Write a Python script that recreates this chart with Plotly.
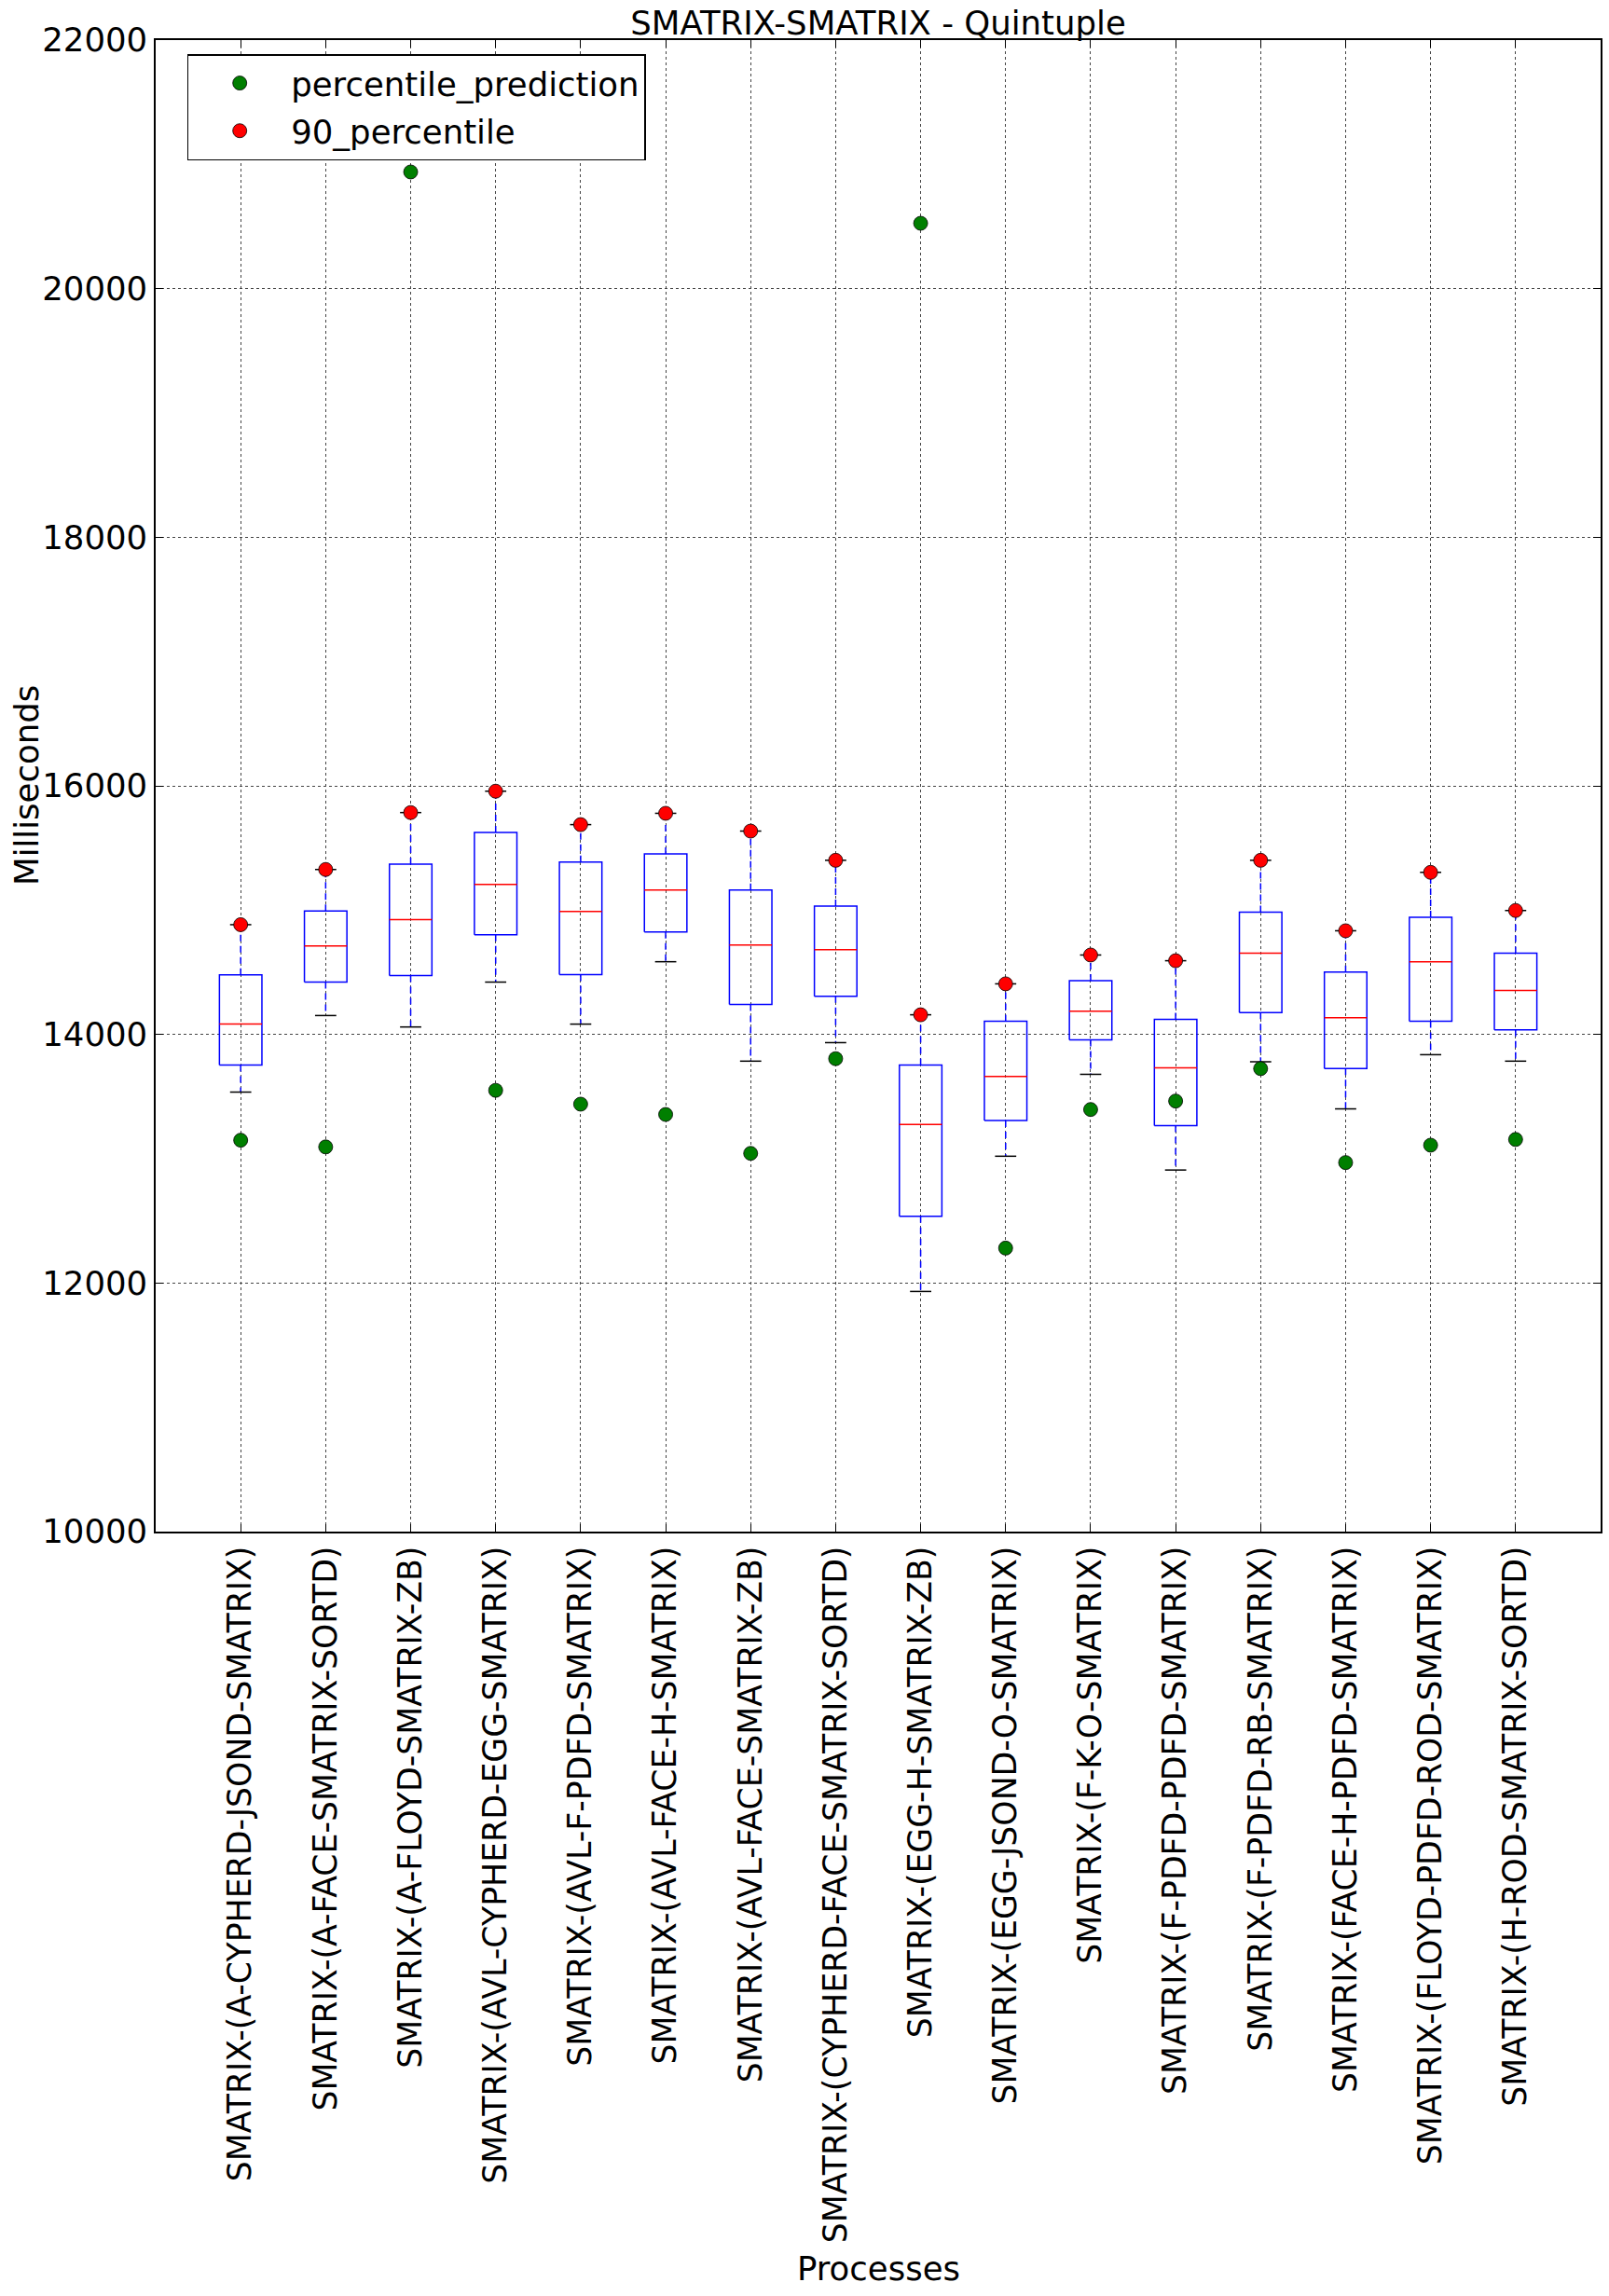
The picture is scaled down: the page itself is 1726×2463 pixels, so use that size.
import plotly.graph_objects as go

categories = [
    "SMATRIX-(A-CYPHERD-JSOND-SMATRIX)",
    "SMATRIX-(A-FACE-SMATRIX-SORTD)",
    "SMATRIX-(A-FLOYD-SMATRIX-ZB)",
    "SMATRIX-(AVL-CYPHERD-EGG-SMATRIX)",
    "SMATRIX-(AVL-F-PDFD-SMATRIX)",
    "SMATRIX-(AVL-FACE-H-SMATRIX)",
    "SMATRIX-(AVL-FACE-SMATRIX-ZB)",
    "SMATRIX-(CYPHERD-FACE-SMATRIX-SORTD)",
    "SMATRIX-(EGG-H-SMATRIX-ZB)",
    "SMATRIX-(EGG-JSOND-O-SMATRIX)",
    "SMATRIX-(F-K-O-SMATRIX)",
    "SMATRIX-(F-PDFD-PDFD-SMATRIX)",
    "SMATRIX-(F-PDFD-RB-SMATRIX)",
    "SMATRIX-(FACE-H-PDFD-SMATRIX)",
    "SMATRIX-(FLOYD-PDFD-ROD-SMATRIX)",
    "SMATRIX-(H-ROD-SMATRIX-SORTD)",
]
positions = list(range(1, len(categories) + 1))

whisker_low = [13536, 14152, 14060, 14421, 14083, 14585, 13785, 13934, 11932, 13020, 13679, 12909, 13780, 13401, 13837, 13785]
q1 = [13754, 14421, 14473, 14802, 14482, 14825, 14241, 14307, 12536, 13307, 13957, 13267, 14175, 13725, 14106, 14037]
median = [14083, 14711, 14923, 15206, 14989, 15161, 14719, 14682, 13275, 13662, 14186, 13731, 14653, 14135, 14585, 14353]
q3 = [14479, 14994, 15370, 15625, 15387, 15453, 15161, 15032, 13754, 14106, 14433, 14121, 14983, 14502, 14943, 14653]
whisker_high = [14883, 15327, 15785, 15957, 15688, 15779, 15636, 15401, 14158, 14407, 14639, 14593, 15401, 14834, 15304, 14997]

percentile_90 = [14883, 15327, 15785, 15957, 15688, 15779, 15636, 15401, 14158, 14407, 14639, 14593, 15401, 14834, 15304, 14997]
percentile_prediction = [13149, 13095, 20939, 13550, 13439, 13356, 13043, 13805, 20526, 12281, 13396, 13464, 13725, 12969, 13109, 13155]

y_ticks = [10000, 12000, 14000, 16000, 18000, 20000, 22000]

BOX_HALF = 0.25
CAP_HALF = 0.125
FONT = "DejaVu Sans"
FS = 35.5
FS_XT = 34.7

box_x, box_y = [], []
med_x, med_y = [], []
wh_x, wh_y = [], []
cap_x, cap_y = [], []
for p, lo, a, m, b, hi in zip(positions, whisker_low, q1, median, q3, whisker_high):
    box_x += [p - BOX_HALF, p + BOX_HALF, p + BOX_HALF, p - BOX_HALF, p - BOX_HALF, None]
    box_y += [a, a, b, b, a, None]
    med_x += [p - BOX_HALF, p + BOX_HALF, None]
    med_y += [m, m, None]
    wh_x += [p, p, None, p, p, None]
    wh_y += [b, hi, None, a, lo, None]
    cap_x += [p - CAP_HALF, p + CAP_HALF, None, p - CAP_HALF, p + CAP_HALF, None]
    cap_y += [hi, hi, None, lo, lo, None]

fig = go.Figure()
fig.add_trace(go.Scatter(x=wh_x, y=wh_y, mode="lines", showlegend=False, hoverinfo="skip",
                         line=dict(color="#0000ff", width=1.5, dash="7px,5px")))
fig.add_trace(go.Scatter(x=cap_x, y=cap_y, mode="lines", showlegend=False, hoverinfo="skip",
                         line=dict(color="black", width=1.5)))
fig.add_trace(go.Scatter(x=box_x, y=box_y, mode="lines", showlegend=False, hoverinfo="skip",
                         line=dict(color="#0000ff", width=1.5)))
fig.add_trace(go.Scatter(x=med_x, y=med_y, mode="lines", showlegend=False, hoverinfo="skip",
                         line=dict(color="#ff0000", width=1.5)))
fig.add_trace(go.Scatter(x=positions, y=percentile_prediction, mode="markers", name="percentile_prediction",
                         legendgroup="a",
                         marker=dict(color="#007f00", size=15, line=dict(color="black", width=0.8))))
fig.add_trace(go.Scatter(x=positions, y=percentile_90, mode="markers", name="90_percentile",
                         legendgroup="b",
                         marker=dict(color="#ff0000", size=15, line=dict(color="black", width=0.8))))

axis_common = dict(
    showline=True, linecolor="black", linewidth=1.5, mirror="ticks",
    ticks="inside", ticklen=8, tickcolor="black", tickwidth=1,
    showgrid=True, gridcolor="#444444", gridwidth=1, griddash="dot",
    zeroline=False,
)

fig.update_layout(
    width=1726, height=2463,
    margin=dict(l=167, r=9, t=43, b=820),
    paper_bgcolor="white", plot_bgcolor="white",
    font=dict(family=FONT, size=FS, color="black"),
    title=dict(text="SMATRIX-SMATRIX - Quintuple", x=(167 + 1717) / 2 / 1726, xanchor="center",
               y=1 - 25 / 2463, yanchor="middle", yref="container",
               font=dict(family=FONT, size=FS, color="black")),
    xaxis=dict(range=[0, len(categories) + 1], tickmode="array", tickvals=positions, ticktext=categories,
               tickangle=-90, automargin=False,
               tickfont=dict(family=FONT, size=FS_XT, color="black"),
               **axis_common),
    yaxis=dict(range=[y_ticks[0], y_ticks[-1]], tickmode="array", tickvals=y_ticks,
               ticktext=[str(v) for v in y_ticks], automargin=False,
               tickfont=dict(family=FONT, size=FS, color="black"),
               **axis_common),
    legend=dict(x=(200.7 - 167) / 1550, y=1 - (58 - 43) / 1600, xanchor="left", yanchor="top",
                bgcolor="white", bordercolor="black", borderwidth=1.5,
                itemwidth=100, tracegroupgap=2,
                font=dict(family=FONT, size=FS, color="black")),
    annotations=[
        dict(text="Milliseconds", xref="paper", yref="paper",
             x=(28 - 167) / 1550, y=0.5, xanchor="center", yanchor="middle",
             textangle=-90, showarrow=False,
             font=dict(family=FONT, size=FS, color="black")),
        dict(text="Processes", xref="paper", yref="paper",
             x=0.5, y=-(2433 - 1643) / 1600, xanchor="center", yanchor="middle",
             showarrow=False,
             font=dict(family=FONT, size=FS, color="black")),
    ],
)

fig.write_html("out.html", post_script="document.body.style.margin='0px';",
               config={"displayModeBar": False})
